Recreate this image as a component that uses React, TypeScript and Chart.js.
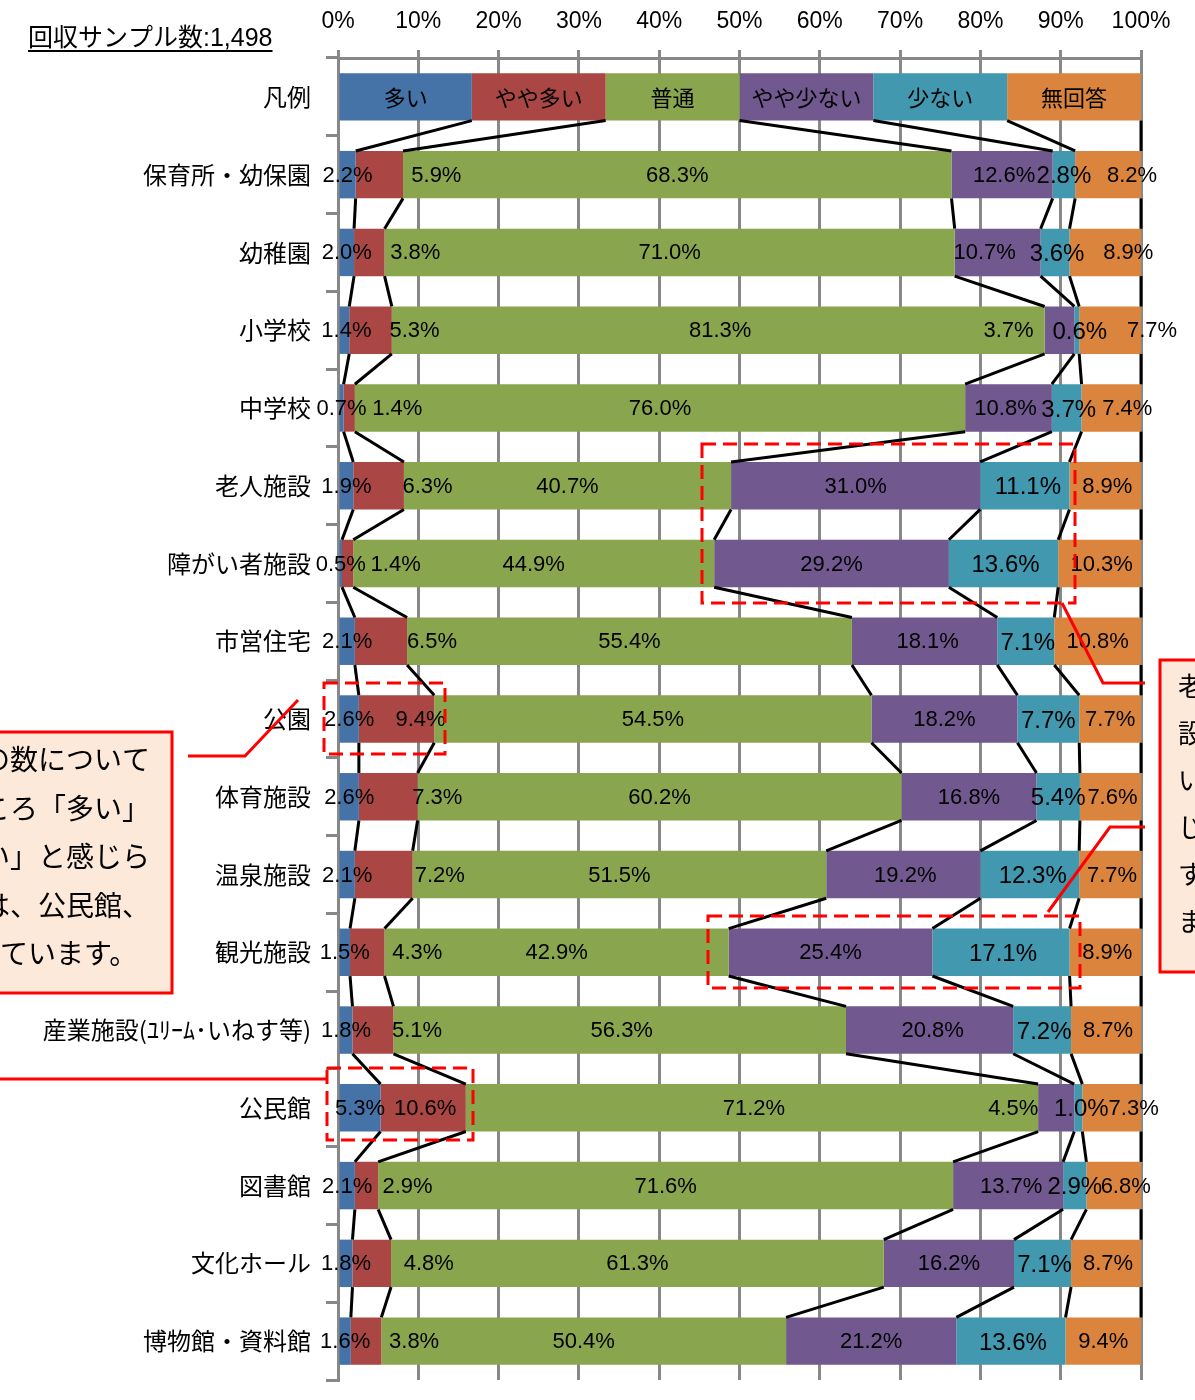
import React, { useEffect, useRef } from 'react';
import { Chart, registerables } from 'chart.js';

Chart.register(...registerables);

// ---------------- data ----------------
const categories = [
  '凡例',
  '保育所・幼保園',
  '幼稚園',
  '小学校',
  '中学校',
  '老人施設',
  '障がい者施設',
  '市営住宅',
  '公園',
  '体育施設',
  '温泉施設',
  '観光施設',
  '産業施設(ﾕﾘｰﾑ･いねす等)',
  '公民館',
  '図書館',
  '文化ホール',
  '博物館・資料館',
];

const seriesNames = ['多い', 'やや多い', '普通', 'やや少ない', '少ない', '無回答'];

// values for rows 2..17 (row 1 is the legend row)
const many = [2.2, 2.0, 1.4, 0.7, 1.9, 0.5, 2.1, 2.6, 2.6, 2.1, 1.5, 1.8, 5.3, 2.1, 1.8, 1.6];
const somewhatMany = [5.9, 3.8, 5.3, 1.4, 6.3, 1.4, 6.5, 9.4, 7.3, 7.2, 4.3, 5.1, 10.6, 2.9, 4.8, 3.8];
const normal = [68.3, 71.0, 81.3, 76.0, 40.7, 44.9, 55.4, 54.5, 60.2, 51.5, 42.9, 56.3, 71.2, 71.6, 61.3, 50.4];
const somewhatFew = [12.6, 10.7, 3.7, 10.8, 31.0, 29.2, 18.1, 18.2, 16.8, 19.2, 25.4, 20.8, 4.5, 13.7, 16.2, 21.2];
const few = [2.8, 3.6, 0.6, 3.7, 11.1, 13.6, 7.1, 7.7, 5.4, 12.3, 17.1, 7.2, 1.0, 2.9, 7.1, 13.6];
const noAnswer = [8.2, 8.9, 7.7, 7.4, 8.9, 10.3, 10.8, 7.7, 7.6, 7.7, 8.9, 8.7, 7.3, 6.8, 8.7, 9.4];

const xTickValues = [0, 10, 20, 30, 40, 50, 60, 70, 80, 90, 100];
const legendRowShare = 100 / 6; // legend row: six equal segments

const sampleTitle = '回収サンプル数:1,498';

// ---------------- styles ----------------
const seriesColors = ['#4572A7', '#AA4643', '#89A54E', '#71588F', '#4198AF', '#DB843D'];
const GRID = '#888888';
const CJK = '"Noto Sans CJK JP", "Noto Sans", sans-serif';
const LATIN = '"Liberation Sans", Arial, sans-serif';

// per-label horizontal nudges (px), rows 2..17, series order as above
const labelNudge = [
  [0, 57, 0, 2, 0, 24],
  [0, 46, 0, -13, 2, 23],
  [2, 44, 2, -51, 3, 42],
  [0, 48, 0, -3, 2, 16],
  [0, 49, 0, 0, 3, 2],
  [0, 48, 0, 0, 2, 2],
  [0, 51, 0, 3, 2, 0],
  [0, 24, 0, 0, 0, 0],
  [0, 49, 0, 0, 0, 2],
  [0, 56, 0, 2, 3, 2],
  [0, 50, 0, 0, 2, 2],
  [0, 44, 2, 3, 2, 2],
  [0, 2, 2, -43, 3, 22],
  [0, 41, 0, 3, 0, 12],
  [0, 57, 0, 0, 2, 2],
  [0, 48, 0, 0, 2, 0],
];

// annotation overlay (pixel layout of callouts)
const dashBoxes = [
  { x: 702, y: 444, w: 373, h: 159 },
  { x: 324, y: 683, w: 121, h: 71 },
  { x: 708, y: 916, w: 372, h: 72 },
  { x: 327, y: 1068, w: 146, h: 72 },
];
const leaderLines = [
  [[188, 756], [245, 756], [298, 700]],
  [[0, 1079], [327, 1079]],
  [[1062, 603], [1103, 683], [1145, 683]],
  [[1048, 912], [1110, 827], [1145, 827]],
];
const leftNote = {
  box: { x: -10, y: 732, w: 182, h: 261 },
  lines: [
    { t: 'の数について', x: -18, y: 759 },
    { t: 'ころ「多い」', x: -18, y: 808 },
    { t: 'い」と感じら', x: -18, y: 856 },
    { t: 'は、公民館、', x: -18, y: 905 },
    { t: 'ています。', x: 0, y: 953 },
  ],
};
const rightNote = {
  box: { x: 1160, y: 660, w: 60, h: 312 },
  lines: [
    { t: '老', x: 1178, y: 686 },
    { t: '設', x: 1178, y: 733 },
    { t: 'い', x: 1178, y: 780 },
    { t: 'じ', x: 1178, y: 827 },
    { t: 'す', x: 1178, y: 874 },
    { t: 'ま', x: 1178, y: 921 },
  ],
};

const rawSeries = [many, somewhatMany, normal, somewhatFew, few, noAnswer];

export default function App() {
  const ref = useRef<HTMLCanvasElement | null>(null);

  useEffect(() => {
    const canvas = ref.current;
    if (!canvas) return;

    const rowSums = many.map((_, i) => rawSeries.reduce((s, arr) => s + arr[i], 0));
    const datasets = rawSeries.map((arr, s) => ({
      label: seriesNames[s],
      data: [legendRowShare, ...arr.map((v, i) => (v / rowSums[i]) * 100)],
      backgroundColor: seriesColors[s],
      borderWidth: 0,
      barPercentage: 0.61,
      categoryPercentage: 1,
    }));

    const overlay = {
      id: 'overlay',
      afterDatasetsDraw(chart: any) {
        const ctx = chart.ctx as CanvasRenderingContext2D;
        const metas = chart.data.datasets.map((_: any, i: number) => chart.getDatasetMeta(i));

        // series lines between bars
        ctx.save();
        ctx.strokeStyle = '#000';
        ctx.lineWidth = 3;
        ctx.lineCap = 'butt';
        metas.forEach((meta: any) => {
          for (let i = 0; i < meta.data.length - 1; i++) {
            const a = meta.data[i];
            const b = meta.data[i + 1];
            ctx.beginPath();
            ctx.moveTo(a.x, a.y + a.height / 2);
            ctx.lineTo(b.x, b.y - b.height / 2);
            ctx.stroke();
          }
        });
        ctx.restore();

        // data labels
        ctx.save();
        ctx.fillStyle = '#000';
        ctx.textAlign = 'center';
        ctx.textBaseline = 'middle';
        metas.forEach((meta: any, s: number) => {
          meta.data.forEach((el: any, i: number) => {
            const cx = (el.x + el.base) / 2;
            if (i === 0) {
              ctx.font = `22px ${CJK}`;
              ctx.fillText(seriesNames[s], cx, el.y + 1);
            } else {
              const v = rawSeries[s][i - 1];
              const dx = labelNudge[i - 1][s];
              ctx.font = s === 4 ? `24px ${LATIN}` : `22px ${LATIN}`;
              ctx.fillText(v.toFixed(1) + '%', cx + dx, el.y + (s === 4 ? 2 : 1));
            }
          });
        });
        ctx.restore();
      },
      afterDraw(chart: any) {
        const ctx = chart.ctx as CanvasRenderingContext2D;
        ctx.save();
        // title
        ctx.font = `25px "Liberation Sans", "Noto Sans CJK JP", sans-serif`;
        ctx.fillStyle = '#000';
        ctx.textAlign = 'left';
        ctx.textBaseline = 'middle';
        ctx.fillText(sampleTitle, 28, 39);
        const w = ctx.measureText(sampleTitle).width;
        ctx.fillRect(28, 50, w, 2);

        // dashed boxes
        ctx.strokeStyle = '#FF0000';
        ctx.lineWidth = 3;
        ctx.setLineDash([14, 7]);
        dashBoxes.forEach((b) => ctx.strokeRect(b.x, b.y, b.w, b.h));
        ctx.setLineDash([]);

        // leader lines
        leaderLines.forEach((pts) => {
          ctx.beginPath();
          pts.forEach(([x, y], k) => (k === 0 ? ctx.moveTo(x, y) : ctx.lineTo(x, y)));
          ctx.stroke();
        });

        // note boxes
        [leftNote, rightNote].forEach((note, n) => {
          const b = note.box;
          ctx.fillStyle = '#FDE9D9';
          ctx.fillRect(b.x, b.y, b.w, b.h);
          ctx.strokeStyle = '#FF0000';
          ctx.lineWidth = 3;
          ctx.strokeRect(b.x, b.y, b.w, b.h);
          ctx.fillStyle = '#000';
          ctx.font = `${n === 0 ? 28 : 26}px ${CJK}`;
          ctx.textAlign = 'left';
          ctx.textBaseline = 'middle';
          note.lines.forEach((l) => ctx.fillText(l.t, l.x, l.y));
        });
        ctx.restore();
      },
    };

    const chart = new Chart(canvas, {
      type: 'bar',
      data: { labels: categories, datasets },
      options: {
        indexAxis: 'y',
        animation: false,
        responsive: false,
        devicePixelRatio: 1,
        layout: { padding: { left: 0, right: 54, top: 0, bottom: 20 } },
        plugins: { legend: { display: false }, tooltip: { enabled: false } },
        scales: {
          x: {
            position: 'top',
            stacked: true,
            min: 0,
            max: 100,
            afterFit: (s: any) => {
              s.height = 58;
            },
            afterBuildTicks: (s: any) => {
              s.ticks = xTickValues.map((v) => ({ value: v }));
            },
            ticks: {
              callback: (v: any) => `${v}%`,
              font: { family: LATIN, size: 23 },
              color: '#000',
              padding: 15,
              maxRotation: 0,
            },
            grid: { color: GRID, lineWidth: 3, drawTicks: true, tickLength: 8 },
            border: { display: true, color: GRID, width: 3 },
          },
          y: {
            stacked: true,
            afterFit: (s: any) => {
              s.width = 338;
              s.paddingTop = 0;
              s.paddingBottom = 0;
            },
            ticks: {
              font: { family: CJK, size: 24 },
              color: '#000',
              padding: 15,
              autoSkip: false,
            },
            grid: {
              offset: true,
              drawOnChartArea: false,
              drawTicks: true,
              tickLength: 12,
              color: GRID,
              lineWidth: 3,
            },
            border: { display: true, color: GRID, width: 3 },
          },
        },
      },
      plugins: [overlay],
    } as any);

    return () => chart.destroy();
  }, []);

  return (
    <div style={{ position: 'absolute', left: 0, top: 0, width: 1195, height: 1400, background: '#fff' }}>
      <canvas ref={ref} width={1195} height={1400} style={{ display: 'block' }} />
    </div>
  );
}
